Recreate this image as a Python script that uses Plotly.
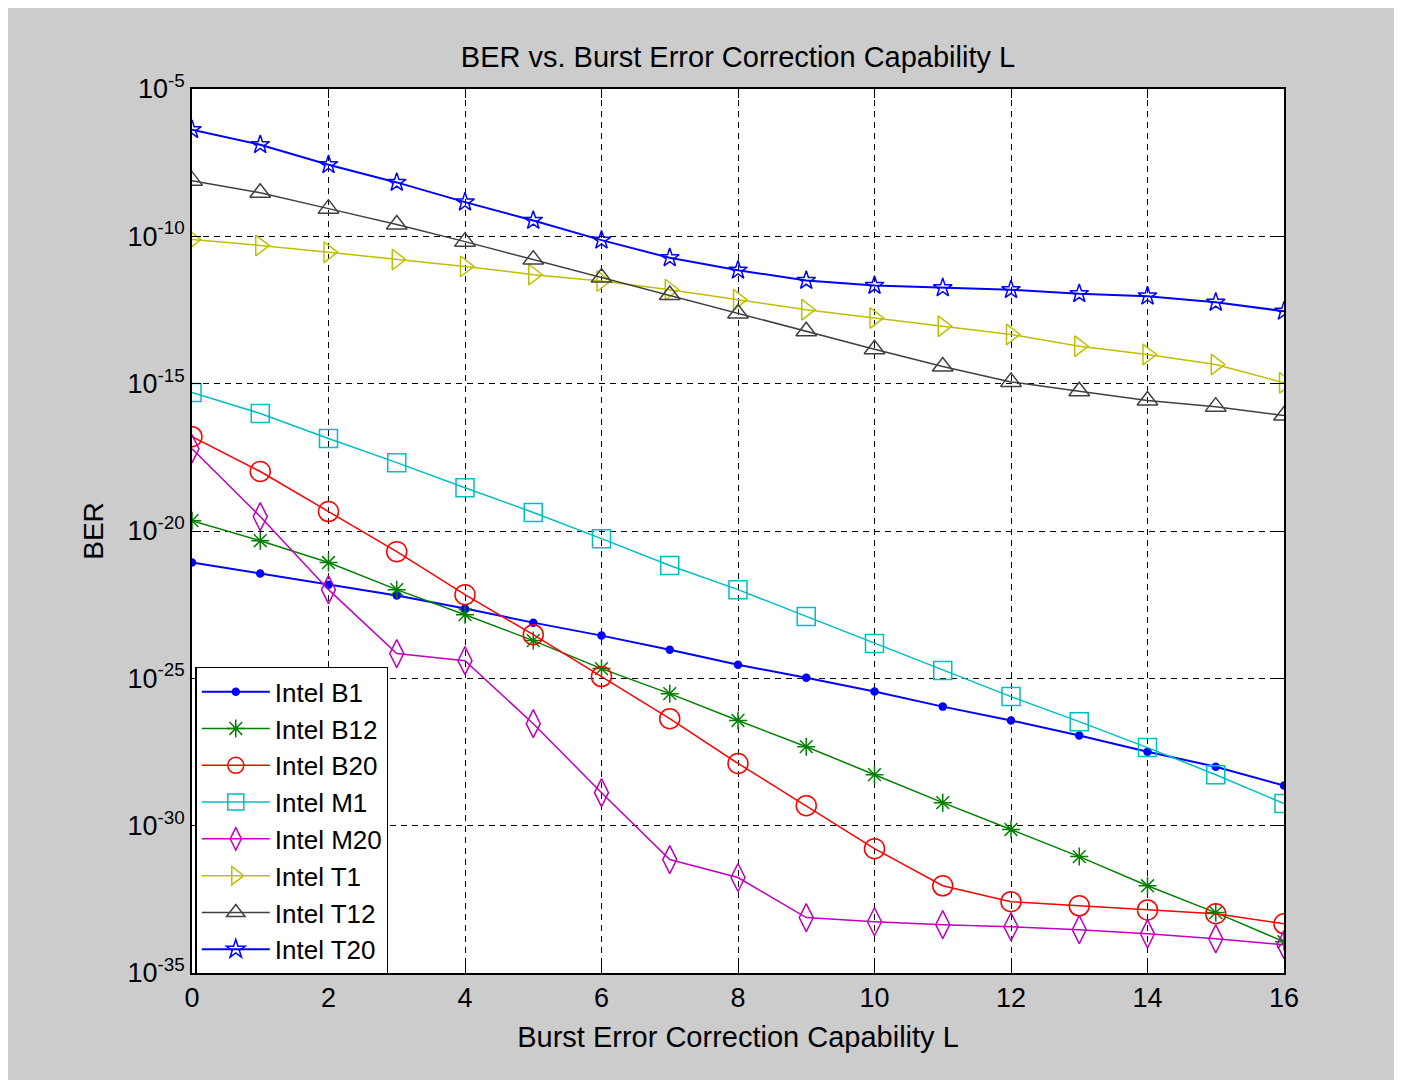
import plotly.graph_objects as go

L = list(range(17))

# log10(BER) values
B1  = [-21.07, -21.44, -21.82, -22.19, -22.63, -23.11, -23.55, -24.03, -24.54, -24.98, -25.45, -25.96, -26.43, -26.94, -27.49, -28.00, -28.64]
B12 = [-19.65, -20.33, -21.07, -21.99, -22.84, -23.72, -24.67, -25.52, -26.43, -27.32, -28.27, -29.22, -30.13, -31.05, -32.04, -32.95, -33.94]
B20 = [-16.80, -17.98, -19.34, -20.70, -22.16, -23.52, -24.94, -26.37, -27.89, -29.32, -30.78, -32.04, -32.58, -32.72, -32.86, -32.99, -33.33]
M1  = [-15.30, -16.01, -16.86, -17.68, -18.53, -19.37, -20.26, -21.17, -21.99, -22.90, -23.82, -24.73, -25.62, -26.47, -27.35, -28.27, -29.25]
M20 = [-17.21, -19.51, -21.99, -24.16, -24.40, -26.54, -28.88, -31.15, -31.76, -33.12, -33.26, -33.36, -33.43, -33.53, -33.67, -33.84, -34.04]
T1  = [-10.11, -10.31, -10.54, -10.79, -11.02, -11.30, -11.52, -11.81, -12.15, -12.49, -12.77, -13.05, -13.33, -13.73, -14.01, -14.35, -14.97]
T12 = [-8.11, -8.52, -9.06, -9.60, -10.18, -10.79, -11.40, -11.99, -12.62, -13.22, -13.83, -14.42, -14.94, -15.26, -15.57, -15.78, -16.08]
T20 = [-6.38, -6.89, -7.57, -8.17, -8.84, -9.46, -10.13, -10.73, -11.15, -11.50, -11.67, -11.75, -11.81, -11.95, -12.03, -12.24, -12.54]

names = ["Intel B1", "Intel B12", "Intel B20", "Intel M1", "Intel M20", "Intel T1", "Intel T12", "Intel T20"]
series = [B1, B12, B20, M1, M20, T1, T12, T20]

ytick_exp = [-5, -10, -15, -20, -25, -30, -35]
xticks = [0, 2, 4, 6, 8, 10, 12, 14, 16]

styles = [
    dict(color="#0000ff", symbol="circle", size=7, lw=2),
    dict(color="#008000", symbol="asterisk-open", size=15, lw=1.5),
    dict(color="#ff0000", symbol="circle-open", size=20, lw=1.5),
    dict(color="#00bfbf", symbol="square-open", size=18, lw=1.5),
    dict(color="#bf00bf", symbol="diamond-tall-open", size=20, lw=1.5),
    dict(color="#bfbf00", symbol="triangle-right-open", size=18, lw=1.5),
    dict(color="#404040", symbol="triangle-up-open", size=18, lw=1.5),
    dict(color="#0000ff", symbol="star-open", size=14, lw=2),
]

fig = go.Figure()
for name, vals, st in zip(names, series, styles):
    fig.add_trace(go.Scatter(
        x=L, y=[10 ** v for v in vals], name=name, mode="lines+markers",
        line=dict(color=st["color"], width=st["lw"]),
        marker=dict(symbol=st["symbol"], size=st["size"], color=st["color"],
                    line=dict(color=st["color"], width=1.5)),
    ))

# page body adds an 8px margin, so the figure is sized to fit inside the window
W, H = 1386, 1072
l, r, t, b = 184, 110, 81, 107
pw, ph = W - l - r, H - t - b

fig.update_layout(
    width=W, height=H,
    margin=dict(l=l, r=r, t=t, b=b, pad=0),
    paper_bgcolor="#cccccc", plot_bgcolor="white",
    font=dict(family="Liberation Sans, Arial, sans-serif", size=27, color="black"),
    title=dict(text="BER vs. Burst Error Correction Capability L", x=(l + pw / 2) / W,
               xanchor="center", y=1 - 49 / H, yanchor="middle",
               font=dict(size=29, color="black")),
    showlegend=True,
    legend=dict(x=0.003, y=-0.002, xanchor="left", yanchor="bottom",
                bgcolor="white", bordercolor="black", borderwidth=1.5,
                font=dict(size=26), itemwidth=68, tracegroupgap=0),
)

fig.update_xaxes(
    range=[0, 16], tickvals=xticks, ticktext=[str(v) for v in xticks],
    showgrid=True, gridcolor="black", griddash="6px,5px", gridwidth=1,
    showline=True, linecolor="black", linewidth=1.5, mirror="ticks",
    ticks="inside", ticklen=9, tickcolor="black", tickwidth=1,
    zeroline=False,
    title=dict(text="Burst Error Correction Capability L", standoff=15, font=dict(size=29)),
)
fig.update_yaxes(
    type="log", range=[-35, -5],
    tickvals=[10 ** e for e in ytick_exp],
    ticktext=["10<sup>%d</sup>" % e for e in ytick_exp],
    showgrid=True, gridcolor="black", griddash="6px,5px", gridwidth=1,
    showline=True, linecolor="black", linewidth=1.5, mirror="ticks",
    ticks="inside", ticklen=9, tickcolor="black", tickwidth=1,
    zeroline=False,
    title=dict(text="BER", standoff=16, font=dict(size=28)),
)

fig.write_html("out.html")
